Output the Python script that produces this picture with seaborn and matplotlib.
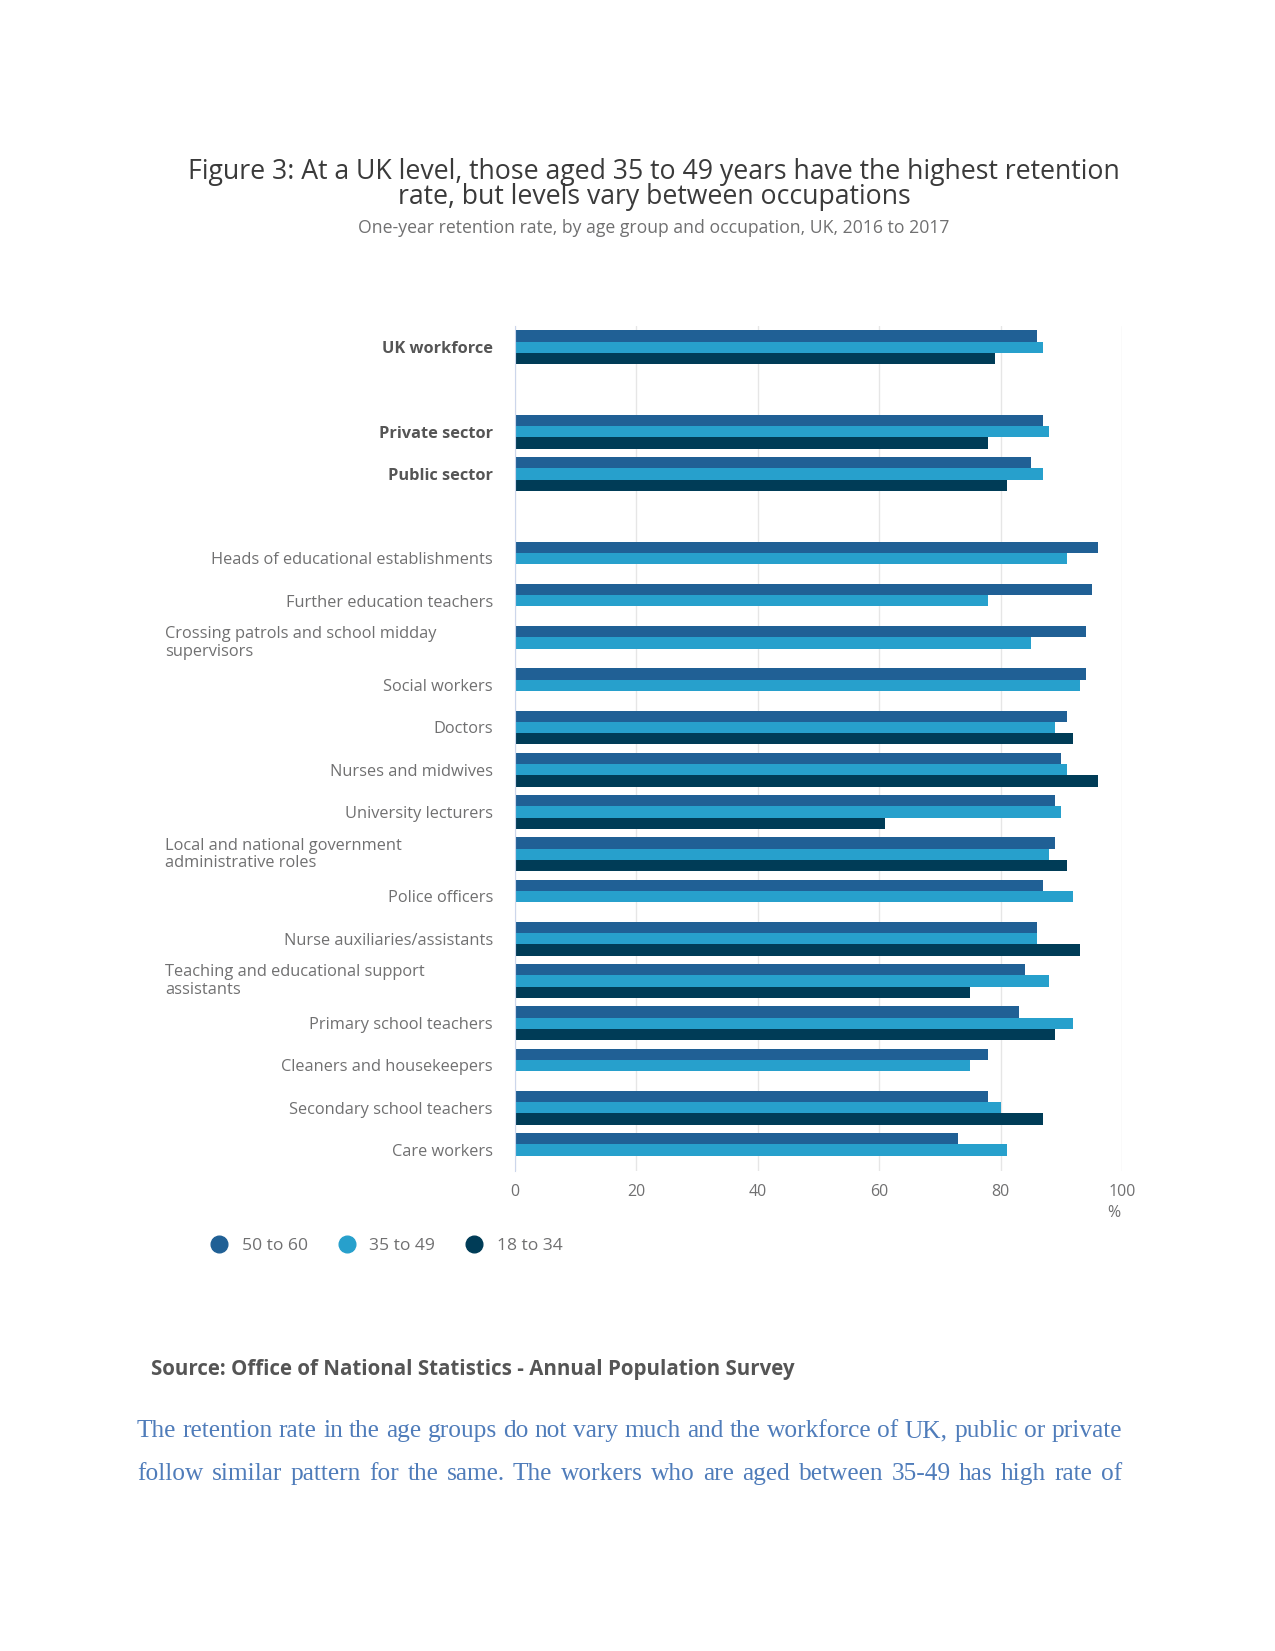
import numpy as np
import pandas as pd
import matplotlib

matplotlib.use('Agg')
import matplotlib.pyplot as plt
import seaborn as sns
from matplotlib.lines import Line2D
from matplotlib.ticker import FixedLocator

nan = np.nan

# rows top to bottom; the blank names are the gaps in the chart
categories = [
    "UK workforce", " ", "Private sector", "Public sector", "  ",
    "Heads of educational establishments", "Further education teachers",
    "Crossing patrols and school midday\nsupervisors", "Social workers", "Doctors",
    "Nurses and midwives", "University lecturers",
    "Local and national government\nadministrative roles", "Police officers",
    "Nurse auxiliaries/assistants", "Teaching and educational support\nassistants",
    "Primary school teachers", "Cleaners and housekeepers",
    "Secondary school teachers", "Care workers",
]
bold_labels = ["UK workforce", "Private sector", "Public sector"]

age_groups = ["50 to 60", "35 to 49", "18 to 34"]
age_50_60 = [86, nan, 87, 85, nan, 96, 95, 94, 94, 91, 90, 89, 89, 87, 86, 84, 83, 78, 78, 73]
age_35_49 = [87, nan, 88, 87, nan, 91, 78, 85, 93, 89, 91, 90, 88, 92, 86, 88, 92, 75, 80, 81]
age_18_34 = [79, nan, 78, 81, nan, nan, nan, nan, nan, 92, 96, 61, 91, nan, 93, 75, 89, nan, 87, nan]
colors = ["#206095", "#27a0cc", "#003c57"]

x_ticks = [0, 20, 40, 60, 80, 100]

title = ("Figure 3: At a UK level, those aged 35 to 49 years have the highest retention\n"
         "rate, but levels vary between occupations")
subtitle = "One-year retention rate, by age group and occupation, UK, 2016 to 2017"
source = "Source: Office of National Statistics - Annual Population Survey"
paragraph = [
    "The retention rate in the age groups do not vary much and the workforce of UK, public or private",
    "follow similar pattern for the same. The workers who are aged between 35-49 has high rate of",
]

# long table for seaborn
df = pd.DataFrame({
    "category": categories * 3,
    "age": [a for a in age_groups for _ in categories],
    "rate": age_50_60 + age_35_49 + age_18_34,
})

sns.set_style("white")
plt.rcParams['font.family'] = ['Open Sans', 'DejaVu Sans']

fig = plt.figure(figsize=(12.75, 16.51), dpi=100)
ax = fig.add_axes([0.404, 0.2907, 0.476, 0.5118])

sns.barplot(data=df, x="rate", y="category", hue="age", order=categories,
            hue_order=age_groups, palette=colors, saturation=1, orient="h", width=0.8,
            errorbar=None, linewidth=0, legend=False, ax=ax)

ax.set_xlim(0, 100)
ax.set_ylim(len(categories) - 0.5, -0.5)
ax.set_xlabel("")
ax.set_ylabel("")
ax.set_xticks(x_ticks)
ax.set_xticklabels([str(t) for t in x_ticks], color="#707071", fontsize=11.5)
ax.tick_params(axis="x", length=0, pad=9)
ax.xaxis.grid(True, color="#e6e6e6", linewidth=1)
ax.set_axisbelow(True)

for s in ["top", "right", "bottom"]:
    ax.spines[s].set_visible(False)
ax.spines["left"].set_color("#ccd6eb")

# tick marks at the row boundaries, as in the original
ax.yaxis.set_minor_locator(FixedLocator(np.arange(-0.5, len(categories), 1)))
ax.tick_params(axis="y", which="minor", length=10, color="#ccd6eb", width=1)
ax.tick_params(axis="y", which="major", length=0, pad=16)

ax.set_yticks(range(len(categories)))
labels = []
for c in categories:
    labels.append("" if "\n" in c else c)
ax.set_yticklabels(labels)
for lab, c in zip(ax.get_yticklabels(), categories):
    lab.set_fontsize(11.8)
    if c in bold_labels:
        lab.set_fontweight("bold")
        lab.set_color("#555555")
    else:
        lab.set_color("#707071")

# wrapped labels are left aligned in the original
for i, c in enumerate(categories):
    if "\n" in c:
        ax.text(-0.5766, i, c, ha="left", va="center", fontsize=11.8,
                color="#707071", linespacing=1.1, transform=ax.get_yaxis_transform())

ax.text(0.987, -0.05, "%", ha="center", va="center", fontsize=11.5,
        color="#707071", transform=ax.transAxes)

fig.text(0.513, 0.8882, title, ha="center", va="center", fontsize=19.2,
         color="#3a3a3a", linespacing=0.88)
fig.text(0.513, 0.862, subtitle, ha="center", va="center", fontsize=12.7,
         color="#707071")

handles = [Line2D([], [], marker="o", linestyle="", markersize=12,
                  markerfacecolor=c, markeredgecolor=c) for c in colors]
fig.legend(handles, age_groups, loc="center left", bbox_to_anchor=(0.146, 0.2455),
           ncol=3, frameon=False, fontsize=12.6, handletextpad=0.3,
           columnspacing=1.2, labelcolor="#707071")

fig.text(0.1184, 0.1708, source, ha="left", va="center", fontsize=14.8,
         fontweight="bold", color="#555555")


def put_justified(line, y, x0, x1, **kw):
    # place words one by one so the line fills x0..x1 (figure fraction)
    renderer = fig.canvas.get_renderer()
    words = line.split(" ")
    texts = [fig.text(0, y, w, ha="left", va="center", **kw) for w in words]
    widths = [t.get_window_extent(renderer).width / fig.bbox.width for t in texts]
    gap = (x1 - x0 - sum(widths)) / (len(words) - 1)
    x = x0
    for t, w in zip(texts, widths):
        t.set_x(x)
        x += w + gap


para_y = [1 - 1431 / 1651, 1 - 1474 / 1651]
for line, y in zip(paragraph, para_y):
    put_justified(line, y, 137 / 1275, 1122 / 1275, fontsize=18.3,
                  family="Liberation Serif", color="#4f7cba")

fig.savefig("out.png", dpi=100)
